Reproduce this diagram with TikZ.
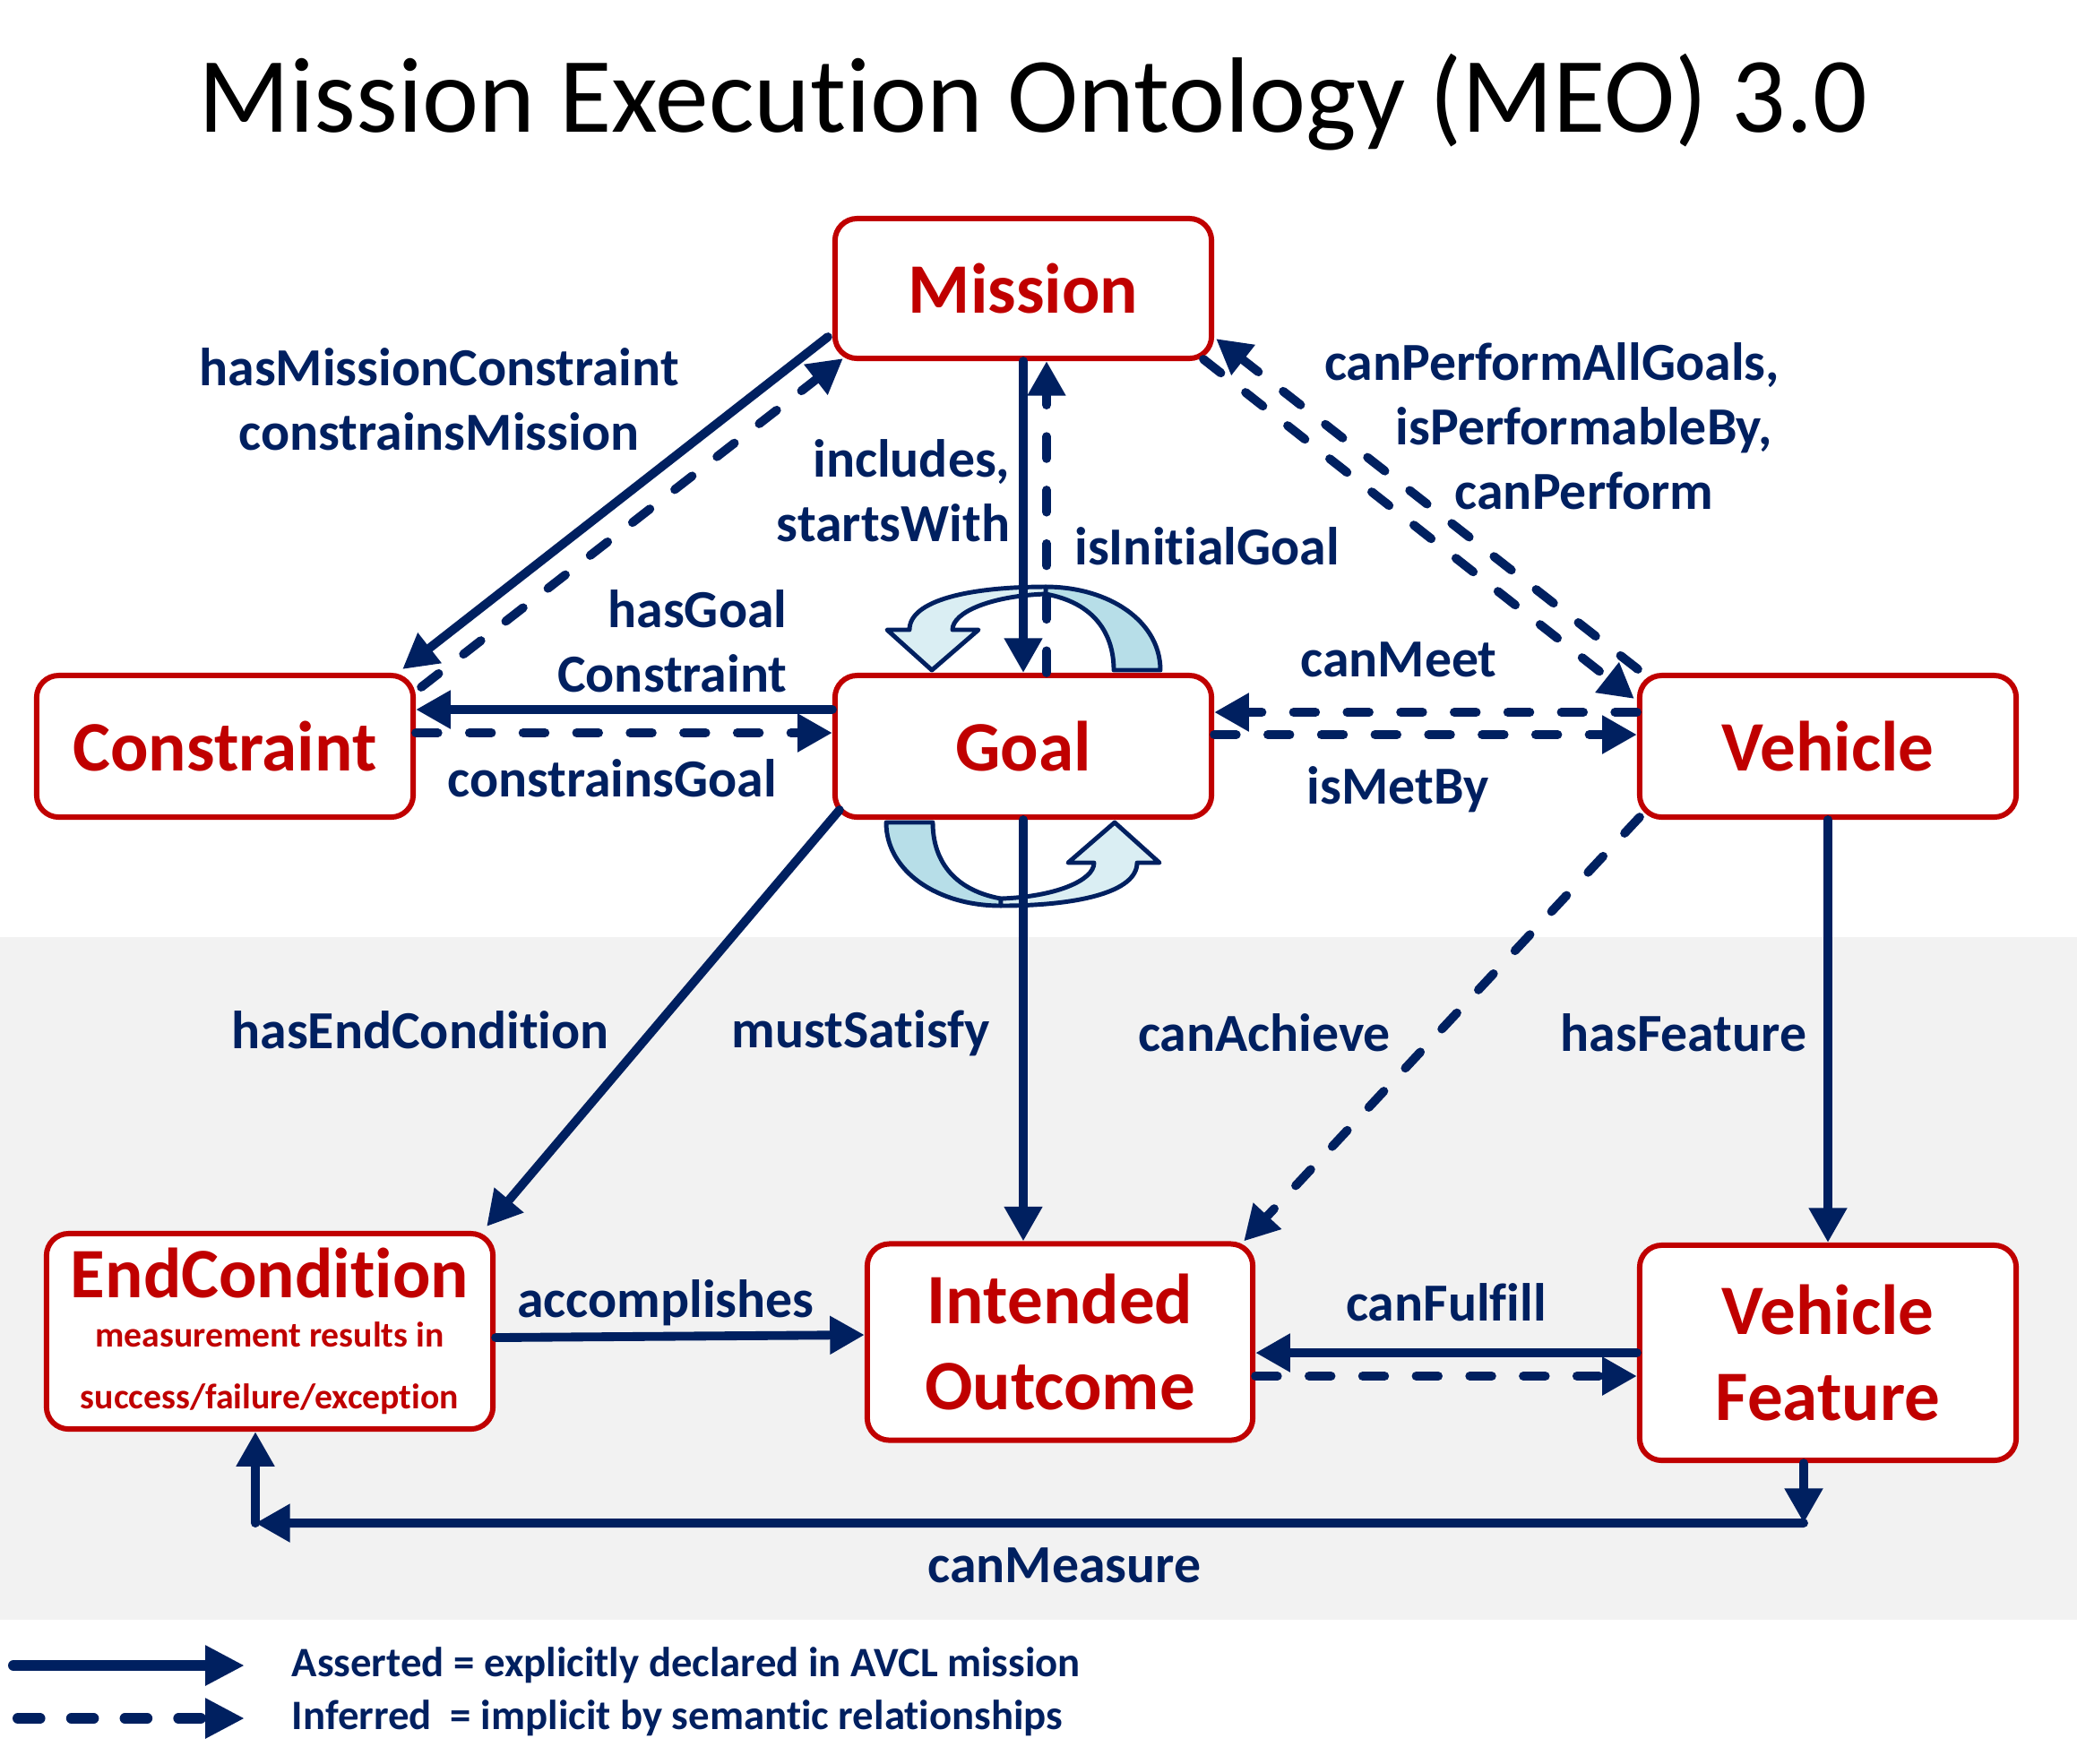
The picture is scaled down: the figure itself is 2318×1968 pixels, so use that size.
\documentclass[tikz,border=0pt]{standalone}
\usepackage{fontspec}
\setmainfont{Carlito}[RawFeature={-liga}]
\usetikzlibrary{arrows.meta,calc}

\definecolor{meoblue}{HTML}{002060}
\definecolor{meored}{HTML}{C00000}
\definecolor{bandgray}{HTML}{F2F2F2}
\definecolor{cycdark}{HTML}{B7DEE8}
\definecolor{cyclight}{HTML}{DAEEF3}

\tikzset{
  cls/.style={draw=meored, line width=1.7pt, rounded corners=7pt, fill=white, text=meored,
    font=\bfseries\fontsize{22.5}{27.5}\selectfont, align=center, inner sep=0pt},
  rel/.style={draw=meoblue, line width=2.8pt, line cap=round, -{Triangle[length=11pt,width=11.5pt]}},
  inf/.style={rel, dash pattern=on 7pt off 10pt},
  lbl/.style={text=meoblue, font=\bfseries\fontsize{17}{20.5}\selectfont, align=center, inner sep=0pt},
  cyc/.style={draw=meoblue, line width=1.4pt, line join=round},
}

\begin{document}
\begin{tikzpicture}[x=0.01cm, y=-0.01cm]
  \useasboundingbox (0,0) rectangle (2318,1968);
  % lower band
  \fill[bandgray] (0,1046) rectangle (2318,1808);
  % title
  \node[font=\fontsize{34}{40}\selectfont, anchor=base] (title) at (1153,147) {Mission Execution Ontology (MEO) 3.0};

  % classes
  \node[cls, minimum width=4.2cm, minimum height=1.56cm] (mission) at (1142,322) {Mission};
  \node[cls, minimum width=4.2cm, minimum height=1.58cm] (constraint) at (251,833) {Constraint};
  \node[cls, minimum width=4.2cm, minimum height=1.58cm] (goal) at (1142,833) {Goal};
  \node[cls, minimum width=4.2cm, minimum height=1.58cm] (vehicle) at (2040,833) {Vehicle};
  \node[cls, minimum width=4.98cm, minimum height=2.18cm, font=\bfseries\fontsize{11.3}{19.6}\selectfont] (endcond) at (301,1486)
    {{\fontsize{22.5}{27}\selectfont EndCondition}\\[-4pt]measurement results in\\success/failure/exception};
  \node[cls, minimum width=4.3cm, minimum height=2.19cm] (intended) at (1183,1498) {Intended\\Outcome};
  \node[cls, minimum width=4.2cm, minimum height=2.4cm] (feature) at (2040,1510) {Vehicle\\Feature};

  % cycle arrows on goal
  \foreach \ang in {0,180}{
    \begin{scope}[shift={(goal.center)}, rotate=\ang]
      \filldraw[cyc, fill=cycdark] (153,-85) .. controls (153,-140) and (95,-178) .. (25,-178)
        -- (25,-170) .. controls (80,-160) and (101,-125) .. (101,-85) -- cycle;
      \filldraw[cyc, fill=cyclight] (25,-178) .. controls (-60,-178) and (-127,-163) .. (-127,-130)
        -- (-152,-130) -- (-102,-85) -- (-50,-130) -- (-79,-130)
        .. controls (-79,-150) and (-35,-168) .. (25,-170) -- cycle;
    \end{scope}
  }

  % mission - constraint
  \draw[rel] ($(mission.south west)+(-5,-27)$) -- ($(constraint.north east)+(-15,-4)$);
  \draw[inf] ($(constraint.north east)+(6,16)$) -- ($(mission.south west)+(12,-3)$);
  % goal - constraint
  \draw[rel] ($(goal.west)+(0,-41)$) -- ($(constraint.east)+(0,-41)$);
  \draw[inf] ($(constraint.east)+(0,-15)$) -- ($(goal.west)+(0,-15)$);
  % mission - goal
  \draw[rel] (mission.south) -- (goal.north);
  \draw[inf] ($(goal.north)+(26,0)$) -- ($(mission.south)+(26,0)$);
  % mission - vehicle
  \draw[inf] ($(vehicle.north west)+(1,-4)$) -- ($(mission.south east)+(2,-25)$);
  \draw[inf] ($(mission.south east)+(-12,-2)$) -- ($(vehicle.north west)+(-3,29)$);
  % goal - vehicle
  \draw[inf] ($(vehicle.west)+(0,-38)$) -- ($(goal.east)+(0,-38)$);
  \draw[inf] ($(goal.east)+(0,-13)$) -- ($(vehicle.west)+(0,-13)$);
  % lower part
  \draw[rel] ($(goal.south west)+(8,-11)$) -- ($(endcond.north east)+(-10,-5)$);
  \draw[rel] (goal.south) -- (goal.south |- intended.north);
  \draw[inf] ($(vehicle.south west)+(3,-3)$) -- ($(intended.north east)+(-13,0)$);
  \draw[rel] (vehicle.south) -- (feature.north);
  \draw[rel] ($(endcond.east)+(0,7)$) -- ($(intended.west)+(0,-8)$);
  \draw[rel] (feature.west) -- ($(intended.east)+(0,12)$);
  \draw[inf] ($(intended.east)+(0,38)$) -- ($(feature.west)+(0,26)$);
  % canMeasure route
  \coordinate (mr) at ($(feature.south)+(-27,67)$);
  \coordinate (ml) at ($(endcond.south)+(-16,102)$);
  \draw[rel] ($(feature.south)+(-27,0)$) -- (mr);
  \draw[rel] (mr) -- (ml);
  \draw[rel] (ml) -- (ml |- endcond.south);

  % relation labels
  \node[lbl] (l-hmc) at (490,446) {hasMissionConstraint\\constrainsMission};
  \node[lbl, align=right, anchor=east] (l-inc) at (1128,548) {includes,\\startsWith};
  \node[lbl] (l-ini) at (1347,610) {isInitialGoal};
  \node[lbl] (l-perf) at (1768,476) {canPerformAllGoals,\hspace*{1.2em}\\isPerformableBy,\\canPerform};
  \node[lbl, align=right, anchor=east] (l-hgc) at (879,716) {hasGoal\\Constraint};
  \node[lbl] (l-cg) at (683,869) {constrainsGoal};
  \node[lbl] (l-meet) at (1561,736) {canMeet};
  \node[lbl] (l-met) at (1560,881) {isMetBy};
  \node[lbl] (l-hec) at (469,1150) {hasEndCondition};
  \node[lbl] (l-ms) at (961,1153) {mustSatisfy};
  \node[lbl] (l-ach) at (1411,1153) {canAchieve};
  \node[lbl] (l-hf) at (1879,1153) {hasFeature};
  \node[lbl] (l-acc) at (743,1454) {accomplishes};
  \node[lbl] (l-ful) at (1614,1454) {canFulfill};
  \node[lbl] (l-meas) at (1188,1747) {canMeasure};

  % legend
  \coordinate (sa) at (15,1859);
  \coordinate (sb) at (273,1859);
  \coordinate (da) at (20,1918);
  \coordinate (db) at (273,1918);
  \draw[rel, line width=3.4pt, -{Triangle[length=12.5pt,width=12pt]}] (sa) -- (sb);
  \draw[inf, line width=3.4pt, -{Triangle[length=12.5pt,width=12pt]}] (da) -- (db);
  \node[lbl, font=\bfseries\fontsize{13.3}{15}\selectfont, anchor=west] (k-asr) at (325,1859) {Asserted = explicitly declared in AVCL mission};
  \node[lbl, font=\bfseries\fontsize{13.3}{15}\selectfont, anchor=west] (k-inf) at (325,1918) {Inferred\ \ = implicit by semantic relationships};
\end{tikzpicture}
\end{document}
